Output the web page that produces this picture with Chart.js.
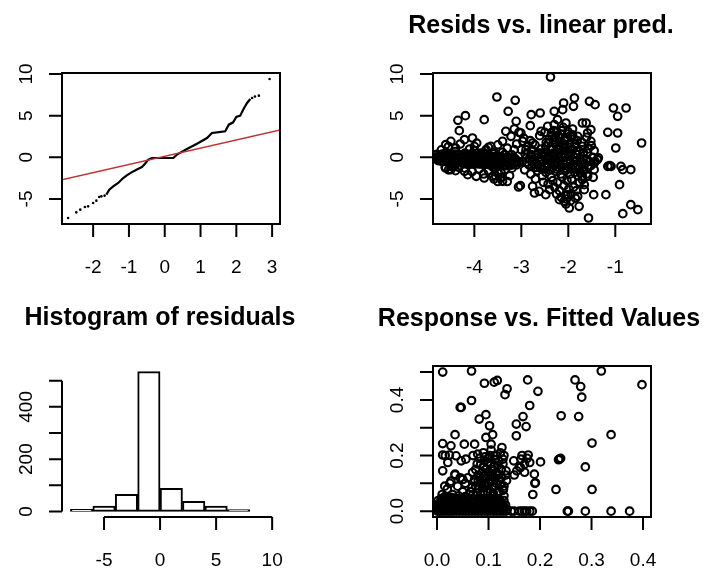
<!DOCTYPE html>
<html>
<head>
<meta charset="utf-8">
<script src="https://cdn.jsdelivr.net/npm/chart.js@4.4.1/dist/chart.umd.min.js"></script>
<style>
  body { margin: 0; background: #fff; }
  #wrap { position: relative; width: 708px; height: 568px; background: #fff; }
  canvas { position: absolute; }
</style>
</head>
<body>
<div id="wrap">
  <canvas id="c1" width="354" height="284" style="left:0;top:0"></canvas>
  <canvas id="c2" width="354" height="284" style="left:354px;top:0"></canvas>
  <canvas id="c3" width="354" height="284" style="left:0;top:284px"></canvas>
  <canvas id="c4" width="354" height="284" style="left:354px;top:284px"></canvas>
</div>
<script>
// -------- PANEL 1: QQ plot --------
const qqDense = [
  [-1.63,-4.48],[-1.55,-3.88],[-1.44,-3.48],[-1.30,-3.08],[-1.16,-2.48],[-1.07,-2.2],
  [-0.93,-1.8],[-0.79,-1.48],[-0.64,-1.16],[-0.55,-0.76],[-0.46,-0.28],[-0.36,-0.08],
  [-0.13,-0.08],[0.24,-0.08],[0.34,0.32],[0.62,1.0],[0.90,1.64],[1.18,2.32],[1.32,2.92],
  [1.46,3.0],[1.69,3.12],[1.79,3.92],[1.91,4.2],[2.0,4.84],[2.11,5.0],[2.19,5.72],
  [2.30,6.52],[2.39,7.0],
];
const qqTail = [
  [-2.70,-7.28],[-2.47,-6.6],[-2.36,-6.28],[-2.23,-5.96],[-2.14,-5.88],[-2.00,-5.48],
  [-1.91,-5.2],[-1.83,-4.76],[-1.77,-4.68],[-1.68,-4.6],
  [2.44,7.12],[2.52,7.3],[2.63,7.4],[2.93,9.4],
];
const qqRefX = [-2.9, 3.25];
const qqRefY = [-2.72, 3.3];
const qqXTicks = [-2, -1, 0, 1, 2, 3];
const residTicks = [-5, 0, 5, 10];

// -------- PANEL 2: resids vs linear predictor --------
const linPredResid = [
  [-2.38,9.64],[-3.52,7.24],[-3.13,6.84],[-3.28,5.52],[-3.79,4.52],[-4.19,5.0],[-4.35,4.44],
  [-4.32,3.2],[-1.87,7.12],[-1.55,6.72],[-1.43,6.32],[-2.10,6.52],[-1.89,6.12],[-1.04,5.92],
  [-0.77,5.92],[-0.95,4.92],[-1.16,3.0],[-0.95,2.92],[-0.99,1.12],[-0.44,1.72],[-2.79,5.12],
  [-2.60,5.32],[-2.30,5.52],[-2.12,5.72],[-2.81,3.8],[-3.11,4.32],[-1.70,4.12],[-1.62,4.12],
  [-1.59,2.92],[-1.52,3.32],
  [-1.38,-0.28],[-1.36,-0.05],[-1.16,-1.08],[-1.12,-1.0],[-1.09,-1.08],[-0.88,-1.08],
  [-0.67,-1.48],[-0.84,-1.48],[-0.91,-3.28],[-1.20,-4.48],[-1.46,-4.48],[-0.67,-5.68],
  [-0.52,-6.28],[-0.84,-6.76],[-1.57,-7.28],[-1.77,-5.88],[-1.98,-6.08],[-1.80,-4.68],
  [-2.09,-5.28],[-2.19,-5.08],[-2.01,-4.48],[-1.66,-3.28],[-1.66,-3.88],[-1.70,-2.68],
  [-1.59,-2.28],[-1.45,-1.48],
  [-3.02,-3.4],[-3.06,-3.56],[-2.76,-3.48],[-2.72,-4.28],[-2.62,-4.08],[-2.48,-4.48],
  [-2.40,-3.88],[-3.40,-2.88],[-3.43,-1.88],[-3.61,-2.28],[-3.79,-2.48],[-3.96,-2.28],
  [-4.14,-2.08],[-4.50,-1.48],[-4.61,-1.28],[-4.43,-1.08],[-4.21,-1.68],
  [-4.61,1.52],[-4.50,1.92],[-4.21,2.12],[-4.04,2.32],[-4.40,1.12],[-4.00,1.32],[-3.65,1.32],
  [-3.40,1.92],[-3.22,2.52],[-3.33,3.12],[-3.01,2.92],[-2.97,1.92],[-2.76,1.72],[-2.58,3.12],
  [-2.44,3.72],[-2.30,3.92],[-2.23,4.52],[-2.05,4.12],[-2.01,3.12],[-2.19,2.32],[-1.80,2.52],
  [-1.87,1.32],[-1.70,1.32],[-1.52,1.92],[-1.80,0.32],[-1.59,0.52],[-1.45,-0.68],[-2.23,0.92],
  [-2.48,1.32],[-2.58,0.52],[-2.79,0.32],[-2.90,0.92],[-3.15,0.92],[-3.36,0.32],[-3.57,0.52],
  [-3.75,0.92],[-3.86,0.52],
  // left band
  [-4.85,0.0],[-4.78,0.05],[-4.70,0.1],[-4.62,0.0],[-4.54,0.2],[-4.46,0.1],[-4.38,0.3],
  [-4.30,0.1],[-4.22,0.2],[-4.14,0.0],[-4.06,0.1],[-3.98,-0.1],[-3.90,0.0],[-3.82,-0.1],
  [-3.74,0.1],[-3.66,-0.2],[-3.58,-0.1],[-3.50,-0.2],[-3.42,0.0],[-3.34,-0.3],[-3.26,-0.2],
  [-3.18,-0.3],[-3.10,-0.4],
  [-4.81,-0.15],[-4.74,-0.1],[-4.66,-0.2],[-4.58,-0.15],[-4.50,-0.1],[-4.42,-0.25],[-4.34,-0.2],
  [-4.26,-0.3],[-4.18,-0.2],[-4.10,-0.35],[-4.02,-0.3],[-3.94,-0.4],[-3.86,-0.35],[-3.78,-0.5],
  [-3.70,-0.4],[-3.62,-0.5],[-3.54,-0.45],[-3.46,-0.55],[-3.38,-0.5],[-3.30,-0.6],[-3.22,-0.55],
  [-3.14,-0.7],[-3.06,-0.6],
  [-4.80,0.35],[-4.74,0.3],[-4.68,0.4],[-4.63,0.25],[-4.57,0.35],[-4.51,0.45],[-4.45,0.3],
  [-4.40,0.4],[-4.34,0.35],[-4.28,0.2],[-4.22,0.3],[-4.17,0.25],[-4.11,0.35],[-4.05,0.2],
  [-3.99,0.25],[-3.94,0.15],[-3.88,0.3],[-3.82,0.2],[-3.76,0.1],[-3.71,0.2],[-3.65,0.15],
  [-3.59,0.05],[-3.53,0.1],[-3.48,0.0],[-3.42,0.1],[-3.36,-0.05],[-3.30,0.0],[-3.25,-0.1],
  [-3.19,-0.05],[-3.13,-0.15],
  [-4.77,-0.4],[-4.71,-0.45],[-4.65,-0.5],[-4.60,-0.45],[-4.54,-0.55],[-4.48,-0.5],[-4.42,-0.6],
  [-4.37,-0.55],[-4.31,-0.65],[-4.25,-0.6],[-4.19,-0.7],[-4.14,-0.65],[-4.08,-0.7],[-4.02,-0.75],
  [-3.96,-0.7],[-3.91,-0.8],[-3.85,-0.75],[-3.79,-0.85],[-3.73,-0.8],[-3.68,-0.9],[-3.62,-0.85],
  [-3.56,-0.95],[-3.50,-0.9],[-3.45,-1.0],[-3.39,-0.95],[-3.33,-1.0],[-3.27,-0.9],[-3.22,-0.95],
  [-3.16,-0.85],[-3.10,-0.9],
  [-4.75,-0.3],[-4.60,-0.5],[-4.45,-0.6],[-4.30,-0.5],[-4.15,-0.7],[-4.00,-0.6],[-3.85,-0.8],
  [-3.70,-0.6],[-3.55,-0.9],[-3.40,-0.7],[-3.25,-0.8],[-3.10,-0.6],[-2.98,-0.5],
  [-4.60,0.6],[-4.40,0.7],[-4.20,0.5],[-4.00,0.8],[-3.80,0.5],[-3.60,0.4],[-3.40,0.6],[-3.20,0.3],
  [-4.62,-1.2],[-4.55,-1.5],[-4.48,-1.1],[-4.40,-1.6],[-4.33,-1.2],
  [-4.2,-1.3],[-4.05,-1.7],[-3.9,-1.4],[-3.8,-2.0],[-3.7,-1.6],[-3.6,-1.2],[-3.5,-1.9],
  [-3.45,-2.5],[-3.35,-1.5],[-3.25,-2.2],[-3.2,-1.3],[-3.3,-2.9],[-3.58,-2.6],[-3.5,-2.9],
  [-3.42,-2.4],[-3.55,-2.2],
  [-4.7,0.9],[-4.55,1.3],[-4.3,1.6],[-4.1,1.0],[-3.95,1.7],[-3.7,1.2],[-3.5,1.5],[-3.3,1.1],
  [-3.1,1.6],[-3.0,0.9],[-2.95,2.3],[-3.15,3.4],[-3.05,3.0],
  // right cluster
  [-2.92,0.4],[-2.88,-0.6],[-2.93,-1.5],[-2.86,1.4],
  [-2.81,2.0],[-2.78,0.9],[-2.83,-0.2],[-2.77,-1.0],[-2.8,-2.0],
  [-2.71,1.5],[-2.68,0.3],[-2.73,-0.8],[-2.66,-1.6],[-2.7,-2.6],
  [-2.61,2.6],[-2.58,1.0],[-2.63,0.0],[-2.57,-0.5],[-2.6,-1.3],[-2.55,-2.2],
  [-2.5,3.0],[-2.47,1.8],[-2.52,0.6],[-2.46,-0.3],[-2.51,-1.0],[-2.48,-1.8],[-2.53,-3.0],
  [-2.41,2.2],[-2.38,1.2],[-2.42,0.2],[-2.37,-0.6],[-2.4,-1.5],[-2.36,-2.4],[-2.43,-3.2],
  [-2.31,3.2],[-2.28,1.6],[-2.32,0.5],[-2.27,-0.2],[-2.3,-0.9],[-2.26,-1.7],[-2.33,-2.8],[-2.29,-3.6],
  [-2.21,2.6],[-2.18,1.4],[-2.22,0.4],[-2.17,-0.4],[-2.2,-1.2],[-2.16,-2.0],[-2.23,-3.0],[-2.19,-4.0],
  [-2.11,3.6],[-2.08,2.0],[-2.12,0.8],[-2.07,0.0],[-2.1,-0.8],[-2.06,-1.6],[-2.13,-2.4],[-2.09,-3.4],[-2.05,-4.6],
  [-2.01,2.8],[-1.98,1.6],[-2.02,0.6],[-1.97,-0.3],[-2.0,-1.1],[-1.96,-2.0],[-2.03,-2.8],[-1.99,-3.8],[-2.04,-5.0],
  [-1.91,3.4],[-1.88,2.2],[-1.92,1.0],[-1.87,0.0],[-1.9,-0.9],[-1.86,-1.8],[-1.93,-2.6],[-1.89,-3.6],[-1.94,-4.4],
  [-1.81,2.0],[-1.78,0.8],[-1.82,-0.4],[-1.77,-1.4],[-1.8,-2.2],[-1.76,-3.0],[-1.83,-4.0],
  [-1.71,1.8],[-1.68,0.6],[-1.72,-0.6],[-1.67,-1.6],[-1.7,-2.3],
  [-1.61,2.4],[-1.58,1.0],[-1.62,-0.2],[-1.57,-1.2],[-1.6,-2.0],
  [-1.51,1.4],[-1.48,0.0],[-1.52,-1.0],[-1.47,-2.4],[-1.45,0.8],[-1.43,-0.5],
  [-2.75,-0.4],[-2.65,-0.9],[-2.55,0.3],[-2.45,-1.2],[-2.35,0.1],[-2.25,-1.4],[-2.15,0.2],
  [-2.05,-1.3],[-1.95,0.3],[-1.85,-1.2],[-1.75,-0.1],[-1.65,-0.8],[-1.55,-0.5],
  [-2.35,2.6],[-2.25,3.0],[-2.15,2.8],[-2.05,2.2],[-1.95,2.6],[-2.3,2.1],[-2.1,1.5],
  [-2.15,-4.8],[-2.05,-5.6],[-1.95,-5.2],[-2.25,-4.4],[-1.85,-4.9],
  [-2.90,-0.1],[-2.84,-0.9],[-2.79,0.1],[-2.74,-0.3],[-2.69,-1.2],[-2.64,0.5],[-2.59,-0.2],
  [-2.54,-1.4],[-2.49,0.1],[-2.44,-0.8],[-2.39,-0.1],[-2.34,-1.2],[-2.29,0.3],[-2.24,-0.7],
  [-2.19,-0.1],[-2.14,-1.1],[-2.09,0.4],[-2.04,-0.6],[-1.99,0.1],[-1.94,-1.4],[-1.89,-0.4],
  [-1.84,0.4],[-1.79,-0.9],[-1.74,-1.9],[-1.69,-0.3],
  [-2.42,1.7],[-2.36,2.9],[-2.27,2.3],[-2.21,1.0],[-2.14,3.2],[-2.08,1.2],[-2.02,2.4],
  [-1.96,1.2],[-1.91,2.7],[-1.85,1.6],[-2.33,1.0],[-2.18,1.8],
];
const linPredTicks = [-4, -3, -2, -1];

// -------- PANEL 3: histogram of residuals --------
const histBinMid = [-7, -5, -3, -1, 1, 3, 5, 7];
const histCounts = [8, 20, 65, 535, 88, 39, 20, 7];
const histXTicks = [-5, 0, 5, 10];
const histYTicks = [0, 100, 200, 300, 400, 500];
const histYLabels = ["0", "", "200", "", "400", ""];

// -------- PANEL 4: response vs fitted --------
const fittedResponse = [
  [0.011,0.5],[0.067,0.504],[0.319,0.504],[0.092,0.46],[0.111,0.464],[0.117,0.47],[0.176,0.472],
  [0.268,0.472],[0.279,0.448],[0.398,0.455],[0.136,0.44],[0.132,0.419],[0.196,0.431],[0.281,0.41],
  [0.067,0.398],[0.045,0.373],[0.047,0.373],[0.18,0.38],[0.095,0.347],[0.082,0.331],[0.167,0.34],
  [0.241,0.343],[0.275,0.34],[0.102,0.307],[0.154,0.313],[0.173,0.304],[0.035,0.275],[0.095,0.265],
  [0.108,0.275],[0.154,0.271],[0.338,0.275],[0.011,0.243],[0.027,0.235],[0.053,0.241],[0.073,0.241],
  [0.105,0.241],[0.126,0.229],[0.301,0.245],
  [0.011,0.202],[0.016,0.2],[0.024,0.202],[0.037,0.199],[0.047,0.181],[0.056,0.187],[0.021,0.175],
  [0.079,0.205],[0.092,0.181],[0.111,0.199],[0.128,0.187],[0.149,0.181],[0.163,0.187],[0.17,0.169],
  [0.177,0.202],[0.201,0.177],[0.238,0.187],[0.24,0.19],[0.236,0.185],[0.162,0.157],[0.155,0.145],
  [0.011,0.145],[0.035,0.133],[0.069,0.139],[0.027,0.108],[0.05,0.114],[0.073,0.114],[0.095,0.133],
  [0.115,0.133],[0.134,0.145],[0.189,0.133],[0.191,0.102],[0.19,0.1],[0.186,0.06],[0.129,0.078],
  [0.109,0.066],[0.231,0.078],[0.288,0.159],[0.301,0.078],
  [0.16,0.16],[0.175,0.19],[0.165,0.2],[0.18,0.175],[0.15,0.13],[0.17,0.14],
  [0.144,0],[0.16,0],[0.17,0],[0.18,0],[0.253,0],[0.255,0],[0.288,0],[0.338,0],[0.374,0],
  // dense corner
  [0.001,0],[0.004,0],[0.008,0],[0.012,0],[0.017,0],[0.022,0],[0.027,0],[0.032,0],[0.038,0],
  [0.044,0],[0.05,0],[0.056,0],[0.062,0],[0.068,0],[0.074,0],[0.08,0],[0.086,0],[0.092,0],
  [0.098,0],[0.104,0],[0.11,0],[0.116,0],[0.122,0],[0.128,0],[0.134,0],[0.15,0],[0.165,0],
  [0.174,0],[0.185,0],
  [0.002,0.008],[0.007,0.007],[0.013,0.009],[0.019,0.007],[0.024,0.008],[0.029,0.009],[0.035,0.007],
  [0.041,0.008],[0.047,0.009],[0.053,0.007],[0.059,0.008],[0.065,0.009],[0.071,0.007],[0.077,0.008],
  [0.083,0.009],[0.089,0.007],[0.095,0.008],[0.101,0.009],[0.107,0.007],[0.113,0.008],[0.119,0.009],
  [0.125,0.007],[0.131,0.008],[0.136,0.006],
  [0.003,0.015],[0.01,0.015],[0.018,0.015],[0.026,0.015],[0.034,0.015],[0.042,0.015],[0.05,0.015],
  [0.058,0.015],[0.066,0.015],[0.074,0.015],[0.082,0.015],[0.09,0.015],[0.098,0.015],[0.106,0.015],
  [0.114,0.015],[0.122,0.015],[0.13,0.015],
  [0.001,0.023],[0.007,0.022],[0.014,0.024],[0.022,0.022],[0.03,0.023],[0.038,0.022],[0.046,0.024],
  [0.054,0.022],[0.062,0.023],[0.07,0.022],[0.078,0.024],[0.086,0.022],[0.094,0.023],[0.102,0.022],
  [0.11,0.024],[0.118,0.022],[0.126,0.023],[0.133,0.022],
  [0.005,0.03],[0.013,0.03],[0.021,0.03],[0.029,0.03],[0.037,0.03],[0.045,0.03],[0.053,0.03],
  [0.061,0.03],[0.069,0.03],[0.077,0.03],[0.085,0.03],[0.093,0.03],[0.101,0.03],[0.109,0.03],
  [0.117,0.03],[0.125,0.03],
  [0.002,0.038],[0.01,0.037],[0.018,0.039],[0.026,0.037],[0.034,0.038],[0.042,0.037],[0.05,0.039],
  [0.058,0.037],[0.066,0.038],[0.074,0.037],[0.082,0.039],[0.09,0.037],[0.098,0.038],[0.106,0.037],
  [0.114,0.039],[0.122,0.037],[0.13,0.038],
  [0.008,0.045],[0.016,0.045],[0.024,0.045],[0.032,0.045],[0.04,0.045],[0.05,0.045],[0.06,0.045],
  [0.07,0.045],[0.08,0.045],[0.09,0.045],[0.1,0.045],[0.11,0.045],[0.12,0.045],
  [0.065,0.07],[0.075,0.09],[0.085,0.06],[0.09,0.11],[0.1,0.08],[0.105,0.13],[0.115,0.1],
  [0.12,0.07],[0.125,0.12],[0.13,0.09],[0.08,0.13],[0.095,0.15],[0.11,0.16],[0.12,0.18],
  [0.1,0.19],[0.085,0.17],[0.075,0.15],[0.07,0.2],[0.09,0.21],[0.105,0.22],[0.115,0.2],
  [0.125,0.15],[0.135,0.11],[0.13,0.2],[0.095,0.1],[0.11,0.055],[0.13,0.055],[0.06,0.12],
  [0.01,0.06],[0.02,0.08],[0.03,0.06],[0.04,0.09],[0.05,0.07],[0.025,0.1],[0.045,0.12],
  [0.015,0.09],[0.035,0.13],[0.055,0.1],
  [0.07,0.06],[0.08,0.08],[0.09,0.07],[0.1,0.1],[0.11,0.09],[0.12,0.11],[0.085,0.1],
  [0.095,0.12],[0.105,0.17],[0.115,0.14],[0.09,0.16],[0.1,0.14],[0.12,0.13],[0.08,0.11],
  [0.068,0.085],[0.078,0.065],[0.088,0.085],[0.098,0.065],[0.108,0.085],[0.118,0.065],[0.128,0.075],
  [0.073,0.105],[0.083,0.12],[0.093,0.09],[0.103,0.115],[0.113,0.12],[0.123,0.095],[0.133,0.13],
  [0.078,0.17],[0.088,0.14],[0.098,0.175],[0.108,0.15],[0.118,0.165],[0.128,0.17],
  [0.083,0.19],[0.093,0.195],[0.103,0.2],[0.113,0.185],[0.123,0.21],
  [0.015,0.052],[0.028,0.05],[0.042,0.055],[0.055,0.052],[0.062,0.06],
];
const fittedTicks = [0, 0.1, 0.2, 0.3, 0.4];
const fittedLabels = ["0.0", "0.1", "0.2", "0.3", "0.4"];
const responseTicks = [0, 0.1, 0.2, 0.3, 0.4, 0.5];
const responseLabels = ["0.0", "", "0.2", "", "0.4", ""];

// -------- AXES IN R STYLE --------
const axisSpecs = {
  c1: { box: true, xTicks: qqXTicks, xLabels: qqXTicks.map(String),
        yTicks: residTicks, yLabels: residTicks.map(String) },
  c2: { box: true, xTicks: linPredTicks, xLabels: linPredTicks.map(String),
        yTicks: residTicks, yLabels: residTicks.map(String),
        title: "Resids vs. linear pred.", titleX: 187, titleY: 33 },
  c3: { box: false, xTicks: histXTicks, xLabels: histXTicks.map(String),
        yTicks: histYTicks, yLabels: histYLabels,
        title: "Histogram of residuals", titleX: 160, titleY: 41 },
  c4: { box: true, xTicks: fittedTicks, xLabels: fittedLabels,
        yTicks: responseTicks, yLabels: responseLabels,
        title: "Response vs. Fitted Values", titleX: 185, titleY: 42 },
};

const rAxes = {
  id: "rAxes",
  afterDatasetsDraw(chart) {
    const spec = axisSpecs[chart.canvas.id];
    const ctx = chart.ctx;
    const a = chart.chartArea;
    const xs = chart.scales.x;
    const ys = chart.scales.y;
    ctx.save();
    ctx.strokeStyle = "#000";
    ctx.fillStyle = "#000";
    ctx.lineWidth = 2;
    if (spec.box) ctx.strokeRect(a.left, a.top, a.right - a.left, a.bottom - a.top);

    const xp = spec.xTicks.map((v) => xs.getPixelForValue(v));
    const yp = spec.yTicks.map((v) => ys.getPixelForValue(v));
    ctx.beginPath();
    ctx.moveTo(xp[0], a.bottom);
    ctx.lineTo(xp[xp.length - 1], a.bottom);
    xp.forEach((p) => { ctx.moveTo(p, a.bottom); ctx.lineTo(p, a.bottom + 13); });
    ctx.moveTo(a.left, yp[0]);
    ctx.lineTo(a.left, yp[yp.length - 1]);
    yp.forEach((p) => { ctx.moveTo(a.left, p); ctx.lineTo(a.left - 13, p); });
    ctx.stroke();

    ctx.font = "19px 'Liberation Sans', Arial, sans-serif";
    ctx.textAlign = "center";
    ctx.textBaseline = "alphabetic";
    spec.xLabels.forEach((t, i) => ctx.fillText(t, xp[i], a.bottom + 49));
    spec.yLabels.forEach((t, i) => {
      if (!t) return;
      ctx.save();
      ctx.translate(a.left - 30, yp[i]);
      ctx.rotate(-Math.PI / 2);
      ctx.fillText(t, 0, 0);
      ctx.restore();
    });

    if (spec.title) {
      ctx.font = "bold 25px 'Liberation Sans', Arial, sans-serif";
      ctx.fillText(spec.title, spec.titleX, spec.titleY);
    }
    ctx.restore();
  },
};

function baseOptions(pad, xr, yr) {
  return {
    responsive: false,
    animation: false,
    events: [],
    layout: { padding: pad },
    plugins: { legend: { display: false }, tooltip: { enabled: false } },
    scales: {
      x: { type: "linear", display: false, offset: false, min: xr[0], max: xr[1] },
      y: { type: "linear", display: false, min: yr[0], max: yr[1] },
    },
  };
}

const toXY = (pts) => pts.map(([x, y]) => ({ x, y }));

const circles = {
  pointStyle: "circle",
  pointRadius: 3.8,
  borderWidth: 2.1,
  pointBorderWidth: 2.1,
  borderColor: "#000",
  backgroundColor: "rgba(0,0,0,0)",
};

// QQ plot
new Chart(document.getElementById("c1"), {
  type: "scatter",
  data: {
    datasets: [
      {
        data: qqRefX.map((x, i) => ({ x, y: qqRefY[i] })),
        showLine: true, borderColor: "#c03030", borderWidth: 1.5, pointRadius: 0,
      },
      {
        data: toXY(qqDense),
        showLine: true, borderColor: "#000", borderWidth: 2.2, pointRadius: 0,
      },
      {
        data: toXY(qqTail),
        pointRadius: 1.3, borderWidth: 0, backgroundColor: "#000", borderColor: "#000",
      },
    ],
  },
  options: baseOptions({ left: 62, right: 74, top: 73, bottom: 60 }, [-2.87, 3.22], [-8.0, 10.12]),
  plugins: [rAxes],
});

// residuals vs linear predictor
new Chart(document.getElementById("c2"), {
  type: "scatter",
  data: { datasets: [{ data: toXY(linPredResid), ...circles }] },
  options: baseOptions({ left: 79, right: 57, top: 73, bottom: 60 }, [-4.88, -0.24], [-8.0, 10.12]),
  plugins: [rAxes],
});

// histogram
new Chart(document.getElementById("c3"), {
  type: "bar",
  data: {
    datasets: [{
      data: histBinMid.map((x, i) => ({ x, y: histCounts[i] })),
      barPercentage: 1,
      categoryPercentage: 1,
      borderWidth: 2,
      borderColor: "#000",
      backgroundColor: "#fff",
      borderSkipped: false,
    }],
  },
  options: baseOptions({ left: 62, right: 74, top: 82, bottom: 51 }, [-8.75, 10.7], [-21.4, 556.4]),
  plugins: [rAxes],
});

// response vs fitted
new Chart(document.getElementById("c4"), {
  type: "scatter",
  data: { datasets: [{ data: toXY(fittedResponse), ...circles }] },
  options: baseOptions({ left: 79, right: 57, top: 82, bottom: 51 }, [-0.0078, 0.4155], [-0.021, 0.522]),
  plugins: [rAxes],
});
</script>
</body>
</html>
